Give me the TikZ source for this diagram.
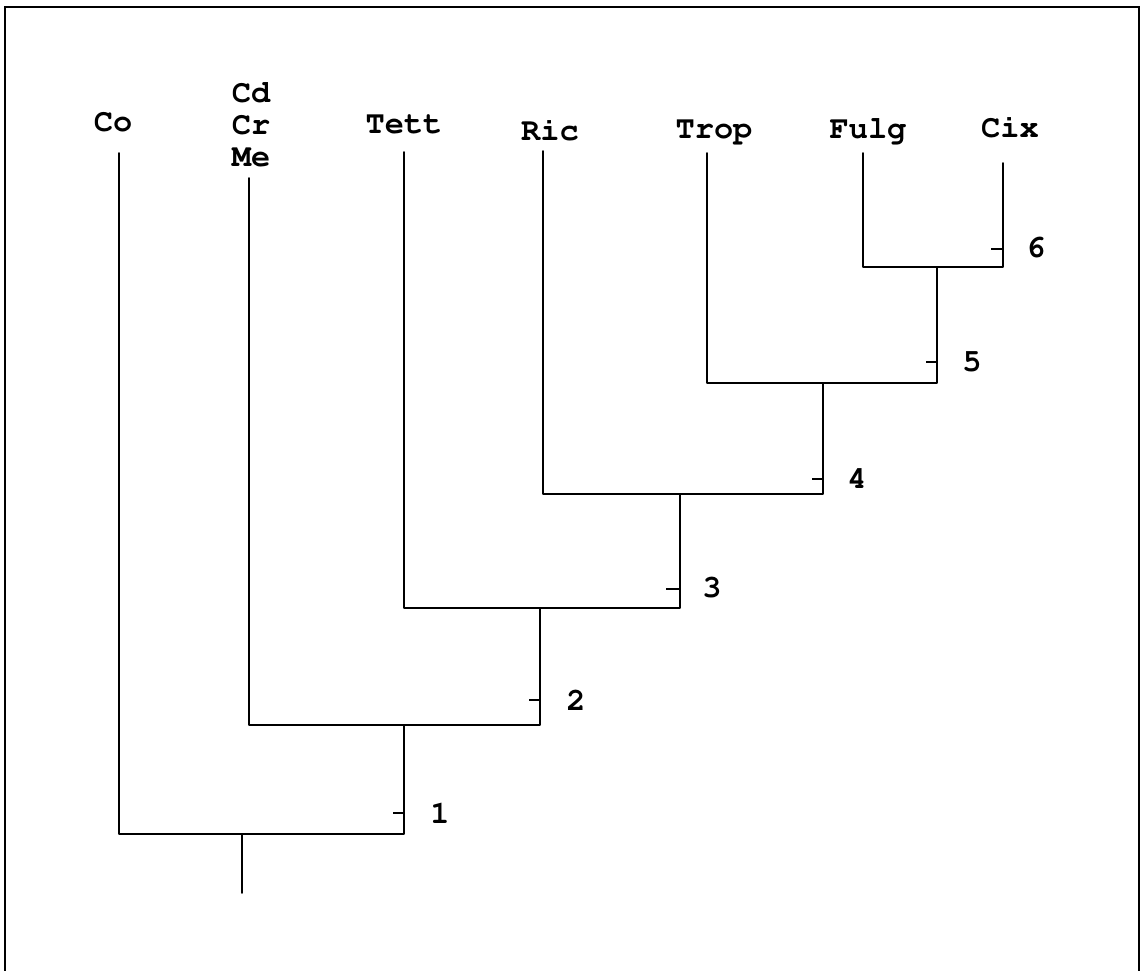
\documentclass[tikz,border=0pt]{standalone}
\usepackage[T1,TU]{fontenc}
\newcommand\labfont{\fontencoding{T1}\fontfamily{pcr}\fontseries{b}\fontshape{n}\fontsize{32}{32}\selectfont}
\begin{document}
\begin{tikzpicture}[x=1pt,y=-1pt,
  tree/.style={line width=1.8pt, line cap=round, line join=round},
  tickmark/.style={line width=1.4pt},
  lab/.style={font=\labfont, inner sep=0pt, anchor=base},
  num/.style={font=\labfont, inner sep=0pt}]
\useasboundingbox (0,0) rectangle (1145,970);
\draw[line width=1.3pt] (5,972) -- (5,7) -- (1139,7) -- (1139,972);
% labels
\node[lab] (co) at (113,131) {Co};
\node[lab] (cd) at (251,102) {Cd};
\node[lab] (cr) at (251,134) {Cr};
\node[lab] (me) at (251,166) {Me};
\node[lab] (tett) at (404,133) {Tett};
\node[lab] (ric) at (550,140) {Ric};
\node[lab] (trop) at (714,138) {Trop};
\node[lab] (fulg) at (868,138) {Fulg};
\node[lab] (cix) at (1010,137) {Cix};
% line tops
\coordinate (coT) at (119,153);
\coordinate (meT) at (249,178);
\coordinate (tettT) at (404,152);
\coordinate (ricT) at (543,151);
\coordinate (tropT) at (707,153);
\coordinate (fulgT) at (863,153);
\coordinate (cixT) at (1003,163);
% junctions
\coordinate (r) at (242,893);
\coordinate (n1) at (242,834);
\coordinate (n2) at (404,725);
\coordinate (n3) at (540,608);
\coordinate (n4) at (680,494);
\coordinate (n5) at (823,383);
\coordinate (n6) at (937,267);
% tree
\draw[tree] (r) -- (n1);
\draw[tree] (coT) |- (n2|-n1) -- (n2);
\draw[tree] (meT) |- (n3|-n2) -- (n3);
\draw[tree] (tettT) |- (n4|-n3) -- (n4);
\draw[tree] (ricT) |- (n5|-n4) -- (n5);
\draw[tree] (tropT) |- (n6|-n5) -- (n6);
\draw[tree] (fulgT) |- (cixT|-n6) -- (cixT);
\draw[line width=2.6pt] (fulgT|-n6) -- (cixT|-n6);
% ticks
\coordinate (t1) at (404,813);
\coordinate (t2) at (540,700);
\coordinate (t3) at (680,589);
\coordinate (t4) at (823,479);
\coordinate (t5) at (937,362);
\coordinate (t6) at (1003,249);
\draw[tickmark] (t1) -- ++(-11,0);
\draw[tickmark] (t2) -- ++(-11,0);
\draw[tickmark] (t3) -- ++(-14,0);
\draw[tickmark] (t4) -- ++(-11,0);
\draw[tickmark] (t5) -- ++(-11,0);
\draw[tickmark] (t6) -- ++(-12,0);
\node[num] (l1) at (440,813) {1};
\node[num] (l2) at (576,700) {2};
\node[num] (l3) at (712,588) {3};
\node[num] (l4) at (857,478) {4};
\node[num] (l5) at (972,362) {5};
\node[num] (l6) at (1036,248) {6};
\end{tikzpicture}
\end{document}
